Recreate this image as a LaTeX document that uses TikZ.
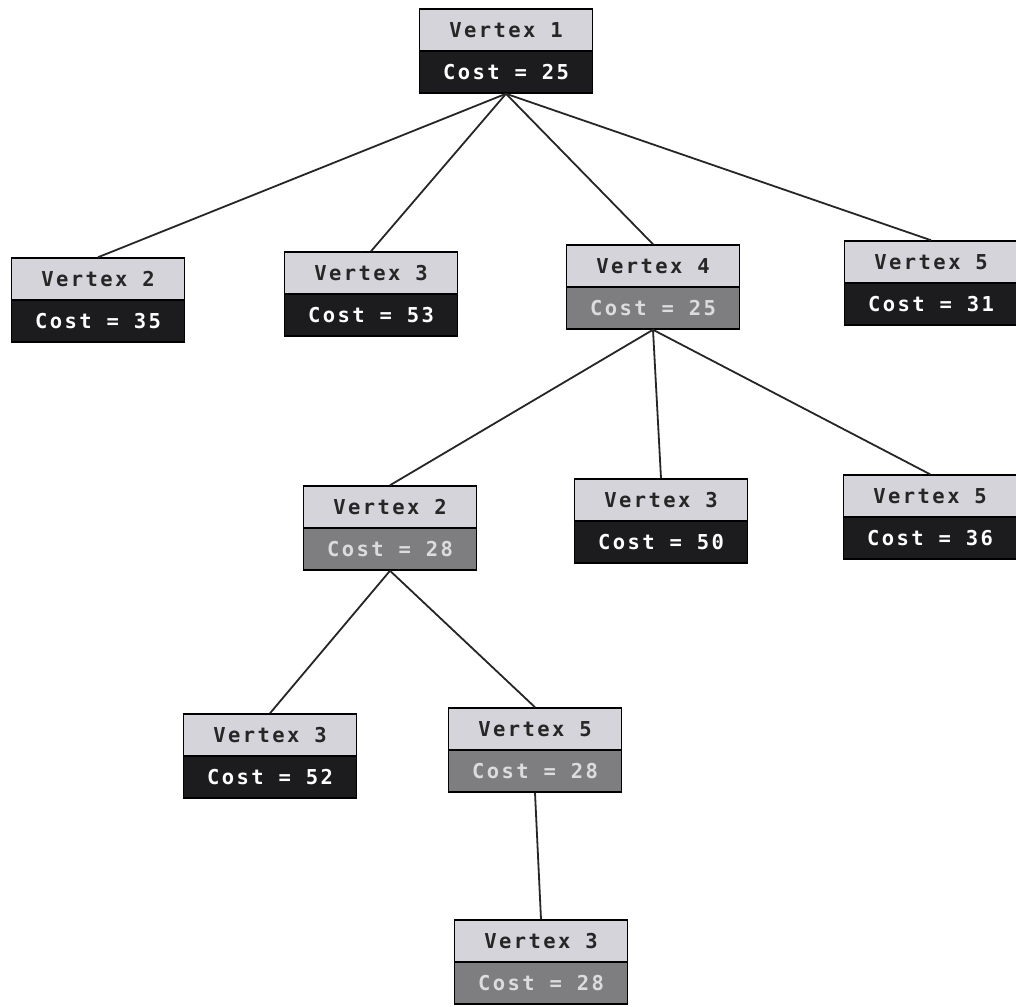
\documentclass[tikz,border=0pt]{standalone}
\usepackage{fontspec}
\newfontfamily\boxfont[LetterSpace=12]{DejaVu Sans Mono}
\definecolor{lightc}{HTML}{D4D4DA}
\definecolor{darkc}{HTML}{1C1C1E}
\definecolor{greyc}{HTML}{7E7E80}
\definecolor{greytext}{HTML}{DCDCDC}
\tikzset{
  toppart/.style={draw=black, line width=1.5pt, fill=lightc, minimum width=173pt,
    minimum height=42pt, inner sep=0pt, text=black!85,
    font=\boxfont\bfseries\fontsize{20.5pt}{24pt}\selectfont},
  costdark/.style={toppart, fill=darkc, text=white},
  costgrey/.style={toppart, fill=greyc, text=greytext},
  edge/.style={line width=1.8pt, black!85}
}
\newcommand\mkvertex[6]{%
  \node[toppart] (#1t) at (#2,#3+21) {Vertex #4};
  \node[#6] (#1b) at (#2,#3+63) {Cost = #5};
}
\begin{document}
\begin{tikzpicture}[x=1pt,y=-1pt]
\fill[white] (0,0) rectangle (1016,1006);
\useasboundingbox (0,0) rectangle (1016,1006);
\mkvertex{a}{506}{9}{1}{25}{costdark}
\mkvertex{b}{98}{258}{2}{35}{costdark}
\mkvertex{c}{371}{252}{3}{53}{costdark}
\mkvertex{d}{653}{245}{4}{25}{costgrey}
\mkvertex{e}{931}{241}{5}{31}{costdark}
\mkvertex{f}{390}{486}{2}{28}{costgrey}
\mkvertex{g}{661}{479}{3}{50}{costdark}
\mkvertex{h}{930}{475}{5}{36}{costdark}
\mkvertex{i}{270}{714}{3}{52}{costdark}
\mkvertex{j}{535}{708}{5}{28}{costgrey}
\mkvertex{k}{541}{920}{3}{28}{costgrey}
\foreach \p/\c in {a/b,a/c,a/d,a/e,d/f,d/g,d/h,f/i,f/j,j/k}
  \draw[edge] (\p b.south) -- (\c t.north);
\end{tikzpicture}
\end{document}
